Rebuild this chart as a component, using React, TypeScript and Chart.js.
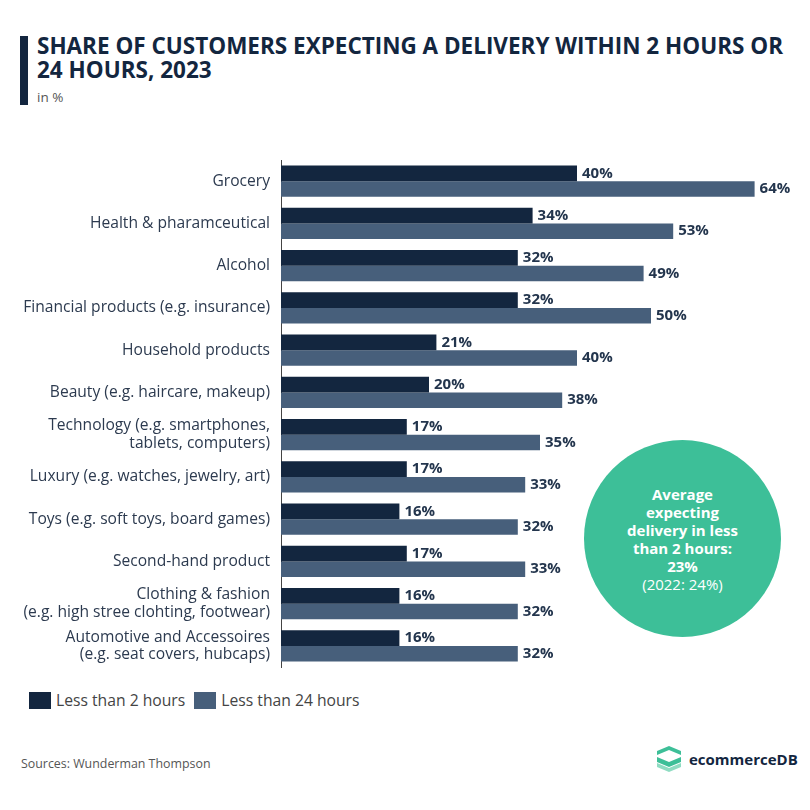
import React, { useEffect, useLayoutEffect, useRef } from "react";
import { Chart, registerables } from "chart.js";

Chart.register(...registerables);

const categories: (string | string[])[] = [
  "Grocery",
  "Health & pharamceutical",
  "Alcohol",
  "Financial products (e.g. insurance)",
  "Household products",
  "Beauty (e.g. haircare, makeup)",
  ["Technology (e.g. smartphones,", "tablets, computers)"],
  "Luxury (e.g. watches, jewelry, art)",
  "Toys (e.g. soft toys, board games)",
  "Second-hand product",
  ["Clothing & fashion", "(e.g. high stree clohting, footwear)"],
  ["Automotive and Accessoires", "(e.g. seat covers, hubcaps)"],
];

const lessThan2Hours = [40, 34, 32, 32, 21, 20, 17, 17, 16, 17, 16, 16];
const lessThan24Hours = [64, 53, 49, 50, 40, 38, 35, 33, 32, 33, 32, 32];

const seriesNames = ["Less than 2 hours", "Less than 24 hours"];
const seriesColors = ["#13263f", "#475f7b"];

const titleLines = [
  "SHARE OF CUSTOMERS EXPECTING A DELIVERY WITHIN 2 HOURS OR",
  "24 HOURS, 2023",
];
const subtitle = "in %";
const calloutBold = ["Average", "expecting", "delivery in less", "than 2 hours:", "23%"];
const calloutNormal = "(2022: 24%)";
const sourceText = "Sources: Wunderman Thompson";

const FONT = "'Open Sans', sans-serif";

// Percentage labels at the end of every bar
const valueLabels = {
  id: "valueLabels",
  afterDatasetsDraw(chart: any) {
    const ctx = chart.ctx;
    ctx.save();
    ctx.font = `bold 15px ${FONT}`;
    ctx.fillStyle = "#23354d";
    ctx.textBaseline = "middle";
    ctx.textAlign = "left";
    chart.data.datasets.forEach((ds: any, di: number) => {
      const meta = chart.getDatasetMeta(di);
      meta.data.forEach((bar: any, i: number) => {
        ctx.fillText(`${ds.data[i]}%`, bar.x + 5, bar.y);
      });
    });
    ctx.restore();
  },
};

function BarChart() {
  const canvasRef = useRef<HTMLCanvasElement>(null);
  useEffect(() => {
    const chart = new Chart(canvasRef.current!, {
      type: "bar",
      data: {
        labels: categories,
        datasets: [
          {
            label: seriesNames[0],
            data: lessThan2Hours,
            backgroundColor: seriesColors[0],
            categoryPercentage: 0.74,
            barPercentage: 1,
          },
          {
            label: seriesNames[1],
            data: lessThan24Hours,
            backgroundColor: seriesColors[1],
            categoryPercentage: 0.74,
            barPercentage: 1,
          },
        ],
      },
      options: {
        indexAxis: "y",
        animation: false,
        responsive: false,
        maintainAspectRatio: false,
        layout: { padding: { top: 10, bottom: 3, right: 11, left: 0 } },
        plugins: {
          legend: { display: false },
          tooltip: { enabled: false },
        },
        scales: {
          x: { display: false, min: 0, max: 70 },
          y: {
            afterFit(scale: any) {
              scale.width = 281;
              scale.paddingTop = 0;
              scale.paddingBottom = 0;
            },
            grid: { display: false, drawTicks: false },
            border: { display: true, color: "#444", width: 1 },
            ticks: {
              padding: 11,
              color: "#2c3a4f",
              font: { family: "'Open Sans'", size: 15.6, lineHeight: 1.1 },
              autoSkip: false,
            },
          },
        },
      },
      plugins: [valueLabels],
    });
    return () => chart.destroy();
  }, []);
  return (
    <canvas
      ref={canvasRef}
      width={810}
      height={520}
      style={{ position: "absolute", left: 0, top: 150, width: 810, height: 520 }}
    />
  );
}

function Title() {
  const boxRef = useRef<HTMLDivElement>(null);
  useLayoutEffect(() => {
    const box = boxRef.current!;
    const first = box.children[0] as HTMLElement;
    const scale = 746 / first.getBoundingClientRect().width;
    box.style.transform = `scaleX(${scale})`;
  }, []);
  return (
    <div
      ref={boxRef}
      style={{
        position: "absolute",
        left: 37,
        top: 33,
        transformOrigin: "left top",
        fontFamily: FONT,
        fontWeight: 700,
        fontSize: 23.5,
        lineHeight: "24px",
        color: "#13263f",
        whiteSpace: "nowrap",
      }}
    >
      {titleLines.map((t, i) => (
        <div key={i} style={{ display: "block", width: "max-content" }}>
          {t}
        </div>
      ))}
    </div>
  );
}

function Logo() {
  return (
    <div style={{ position: "absolute", left: 657, top: 746, display: "flex", alignItems: "center" }}>
      <svg width="24" height="26" viewBox="0 0 24 26">
        <polygon points="0,5 12,0 24,5 24,9 12,4 0,9" fill="#3dbf98" />
        <polygon points="0,11 12,16 24,11 24,16 12,21 0,16" fill="#3dbf98" />
        <polygon points="0,17 12,22 24,17 24,21 12,26 0,21" fill="#8fdcc2" />
      </svg>
      <span
        style={{
          marginLeft: 8,
          fontFamily: FONT,
          fontWeight: 700,
          fontSize: 15,
          color: "#13263f",
        }}
      >
        ecommerceDB
      </span>
    </div>
  );
}

export default function App() {
  return (
    <div
      style={{
        position: "absolute",
        left: 0,
        top: 0,
        width: 810,
        height: 810,
        background: "#fff",
        overflow: "hidden",
        fontFamily: FONT,
      }}
    >
      <div style={{ position: "absolute", left: 20, top: 36, width: 8, height: 69, background: "#13263f" }} />
      <Title />
      <div style={{ position: "absolute", left: 37, top: 88, fontSize: 13.5, color: "#555" }}>{subtitle}</div>

      <BarChart />

      <div
        style={{
          position: "absolute",
          left: 584,
          top: 440,
          width: 197,
          height: 197,
          borderRadius: "50%",
          background: "#3dbf98",
          color: "#fff",
          display: "flex",
          flexDirection: "column",
          alignItems: "center",
          justifyContent: "center",
          textAlign: "center",
          fontSize: 15,
          lineHeight: "18px",
        }}
      >
        {calloutBold.map((t, i) => (
          <div key={i} style={{ fontWeight: 700 }}>
            {t}
          </div>
        ))}
        <div style={{ fontWeight: 400 }}>{calloutNormal}</div>
      </div>

      <div style={{ position: "absolute", left: 29, top: 689, display: "flex", alignItems: "center" }}>
        {seriesNames.map((n, i) => (
          <div key={i} style={{ display: "flex", alignItems: "center", marginRight: 9 }}>
            <div style={{ width: 22, height: 17, background: seriesColors[i] }} />
            <span style={{ marginLeft: 5, fontSize: 15.7, color: "#444" }}>{n}</span>
          </div>
        ))}
      </div>

      <div style={{ position: "absolute", left: 21, top: 755, fontSize: 12.4, color: "#555" }}>{sourceText}</div>
      <Logo />
    </div>
  );
}
